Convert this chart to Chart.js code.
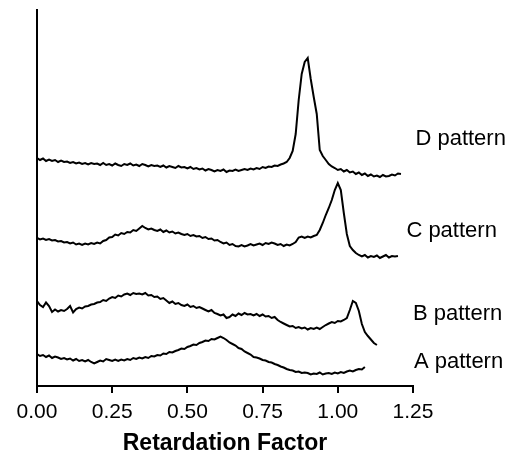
<!DOCTYPE html>
<html>
<head>
<meta charset="utf-8">
<script src="https://cdn.jsdelivr.net/npm/chart.js@4/dist/chart.umd.min.js"></script>
<style>
  html, body { margin: 0; padding: 0; background: #fff; }
  #wrap { width: 511px; height: 457px; }
</style>
</head>
<body>
<div id="wrap"><canvas id="rf-chart" width="511" height="457"></canvas></div>
<script>
// densitometer scans (arbitrary intensity, one value per 0.01 Rf)
var rfStep = 0.01;

var patternA = [
  32, 30, 31, 29, 30.5, 28, 29.5, 28.5, 27, 28,
  26.5, 27.5, 25.5, 27, 25, 26, 24.5, 26, 24, 22.5,
  24, 25.5, 24.5, 27, 26, 25, 26.5, 25, 26.5, 25.5,
  27, 26, 28, 27, 28.5, 27.5, 29, 28, 30, 29.5,
  31, 30.5, 32.5, 32, 34, 33.5, 35, 36, 37.5, 37,
  39, 40, 41.5, 41, 43, 44, 45.5, 45, 47, 46.5,
  48, 49.5, 48, 46, 43.5, 42, 40.5, 38, 37, 34.5,
  33, 31.5, 29, 28.5, 27.5, 26, 25.5, 24, 23.5, 22,
  21, 19.5, 18.5, 17, 16, 15.5, 14, 14.5, 13, 13.5,
  13, 11.5, 12.5, 12, 13.5, 11.5, 12.5, 13, 12, 13.5,
  12.5, 14, 13, 14.5, 15.5, 14.5, 16, 17, 16.5, 19
];

var patternB = [
  85, 81, 79, 83.5, 80, 74, 76.5, 74.5, 76, 75,
  77, 80, 73.5, 77, 78.5, 77.5, 79.5, 80, 81.5, 82,
  83.5, 84, 86, 85, 87.5, 89, 88, 90.5, 89.5, 91.5,
  92.5, 91, 93, 92, 92.5, 91.5, 93, 90.5, 91, 89,
  89.5, 87, 88, 85.5, 83, 84.5, 82, 83, 81, 80,
  81.5, 79, 80, 78, 79, 77.5, 76, 74.5, 76, 73,
  72, 70.5, 71.5, 68, 69, 71.5, 70, 72.5, 71, 73,
  71.5, 72, 70.5, 72, 70, 71.5, 69.5, 70, 68, 69,
  66, 64, 62.5, 61, 59.5, 60, 58, 59, 57.5, 58.5,
  56.5, 58, 57, 58.5, 57, 59, 61, 62.5, 64, 63,
  65, 64.5, 66, 68, 76, 85, 83, 75, 62, 54,
  50, 46.5, 43, 41
];

var patternC = [
  148, 146.5, 147.5, 146, 147, 145.5, 146, 144.5, 145, 143.5,
  144, 142.5, 143.5, 141.5, 142.5, 141, 142.5, 141.5, 143, 142,
  143.5, 142.5, 145, 146, 148.5, 149, 151.5, 150.5, 153, 152,
  154, 153.5, 156, 155, 157.5, 160, 158, 156.5, 157.5, 156,
  155, 156.5, 154, 155.5, 153.5, 154.5, 152.5, 153.5, 152, 151,
  152, 150, 151, 149.5, 150, 148, 149, 147, 147.5, 145.5,
  146, 144, 142.5, 143.5, 141, 142, 140, 139.5, 141, 139.5,
  140.5, 142, 140.5, 141.5, 142.5, 141, 143, 142, 143.5, 142.5,
  141, 142, 140, 141.5, 140.5, 142, 144, 148.5, 149.5, 148,
  149.5, 148.5, 150, 151, 156, 163, 171, 178, 186, 196,
  203, 196, 173, 152, 140, 136, 133, 131, 129.5, 131,
  128.5, 130, 129, 130.5, 128, 129.5, 131, 128.5, 130, 129.5, 130
];

var patternD = [
  228, 226, 227.5, 225, 226.5, 225, 226, 224, 225.5, 224,
  224.5, 223, 224, 222.5, 223.5, 222, 223, 221.5, 223, 222,
  222.5, 221, 223, 221, 222, 220.5, 222.5, 221, 220, 222,
  221, 222.5, 220.5, 221.5, 220, 222, 221, 219.5, 221, 220,
  220.5, 219, 220.5, 218.5, 220, 219, 218, 220, 218.5, 219,
  217.5, 219, 217, 218, 216.5, 217.5, 215.5, 217, 216, 214.5,
  216, 215, 216.5, 214, 215.5, 215, 216.5, 215, 216, 217,
  216, 217.5, 216.5, 218, 217, 219, 218, 219.5, 219, 220.5,
  220, 221.5, 222.5, 224, 228, 235, 252, 286, 312, 324,
  328, 307, 289, 272, 236, 230, 226, 222, 219.5, 218,
  216, 217, 214.5, 216, 213.5, 214.5, 212, 213.5, 211, 212.5,
  210, 211.5, 209.5, 210.5, 209, 211, 209.5, 210, 211.5, 210.5, 212.5, 212
];

var xTicks = [0, 0.25, 0.5, 0.75, 1.0, 1.25];

// text next to each trace: name, Rf and intensity where it sits
var patternNames = ["A pattern", "B pattern", "C pattern", "D pattern"];
var nameX = [1.253, 1.25, 1.228, 1.258];
var nameY = [17.7, 66, 149.5, 241];

var FONT = "'Liberation Sans', Arial, Helvetica, sans-serif";
Chart.defaults.font.family = FONT;
Chart.defaults.color = "#000";

function toPoints(values) {
  return values.map(function(v, i) {
    return { x: +(i * rfStep).toFixed(2), y: v };
  });
}

function makeSet(name, values) {
  return {
    label: name,
    data: toPoints(values),
    borderColor: "#000",
    borderWidth: 2,
    pointRadius: 0,
    tension: 0,
    fill: false
  };
}

// writes the pattern names at the right end of each trace
var nameLabels = {
  id: "nameLabels",
  afterDatasetsDraw: function(chart) {
    var ctx = chart.ctx;
    var xs = chart.scales.x;
    var ys = chart.scales.y;
    ctx.save();
    ctx.fillStyle = "#000";
    ctx.font = "22px " + FONT;
    ctx.textAlign = "left";
    ctx.textBaseline = "alphabetic";
    patternNames.forEach(function(n, i) {
      ctx.fillText(n, xs.getPixelForValue(nameX[i]), ys.getPixelForValue(nameY[i]));
    });
    ctx.restore();
  }
};

new Chart(document.getElementById("rf-chart"), {
  type: "line",
  data: {
    datasets: [
      makeSet("A pattern", patternA),
      makeSet("B pattern", patternB),
      makeSet("C pattern", patternC),
      makeSet("D pattern", patternD)
    ]
  },
  options: {
    responsive: false,
    animation: false,
    layout: { padding: { left: 0, top: 10, right: 98, bottom: 0 } },
    plugins: {
      legend: { display: false },
      tooltip: { enabled: false }
    },
    scales: {
      x: {
        type: "linear",
        min: 0,
        max: 1.25,
        afterBuildTicks: function(scale) {
          scale.ticks = xTicks.map(function(v) { return { value: v }; });
        },
        afterFit: function(scale) { scale.height = 71; },
        ticks: {
          autoSkip: false,
          maxRotation: 0,
          padding: 7,
          color: "#000",
          font: { size: 21 },
          callback: function(v) { return Number(v).toFixed(2); }
        },
        grid: {
          drawOnChartArea: false,
          drawTicks: true,
          tickLength: 7,
          lineWidth: 2,
          color: "#000"
        },
        border: { display: true, color: "#000", width: 2 },
        title: {
          display: true,
          text: "Retardation Factor",
          color: "#000",
          font: { size: 23, weight: "bold" },
          padding: { top: 0, bottom: 0 }
        }
      },
      y: {
        type: "linear",
        min: 0,
        max: 376,
        afterFit: function(scale) { scale.width = 37; },
        ticks: { display: false },
        grid: { display: false },
        border: { display: true, color: "#000", width: 2 }
      }
    }
  },
  plugins: [nameLabels]
});
</script>
</body>
</html>
